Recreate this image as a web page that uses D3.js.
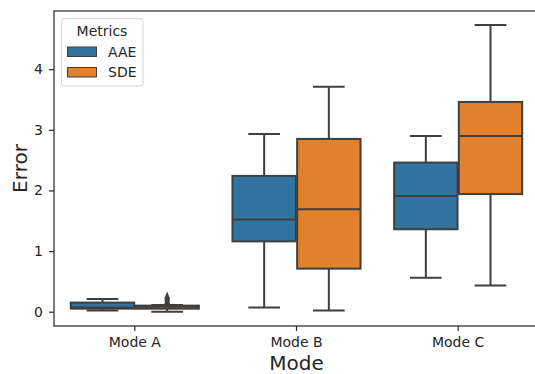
<!DOCTYPE html>
<html>
<head>
<meta charset="utf-8">
<script src="https://cdn.jsdelivr.net/npm/d3@7"></script>
<style>
  body { margin: 0; background: #fff; }
  text { font-family: "DejaVu Sans", sans-serif; fill: #262626; }
</style>
</head>
<body>
<div id="container"></div>
<script>
// categories
let modes = ["Mode A", "Mode B", "Mode C"];
let metrics = ["AAE", "SDE"];
let colors = ["#3274a1", "#e1812c"];
let yTicks = [0, 1, 2, 3, 4];

// box stats per mode: [whiskerLow, q1, median, q3, whiskerHigh]
let aaeStats = [
  [0.02, 0.05, 0.07, 0.15, 0.21],
  [0.07, 1.16, 1.52, 2.24, 2.93],
  [0.56, 1.36, 1.91, 2.46, 2.90]
];
let sdeStats = [
  [0.00, 0.05, 0.08, 0.10, 0.11],
  [0.02, 0.71, 1.69, 2.85, 3.71],
  [0.43, 1.94, 2.90, 3.46, 4.73]
];
// fliers per mode
let aaeOutliers = [[], [], []];
let sdeOutliers = [[0.14, 0.18, 0.22], [], []];

let w = 535;
let h = 374;
let padLeft = 54, padRight = 539, padTop = 11, padBottom = 326;
let lineColor = "#3f3f3f";

let viz = d3.select("#container")
  .append("svg")
    .attr("width", w)
    .attr("height", h)
;

let xScale = d3.scaleBand().domain(modes).range([padLeft, padRight]);
let bw = xScale.bandwidth();
let hueScale = d3.scaleBand().domain(metrics).range([-0.4 * bw, 0.4 * bw]);
let yScale = d3.scaleLinear().domain([-0.236, 4.96]).range([padBottom, padTop]);

// flatten into one list of boxes
let boxes = [];
modes.forEach(function(m, i){
  boxes.push({mode: m, metric: "AAE", s: aaeStats[i], out: aaeOutliers[i]});
  boxes.push({mode: m, metric: "SDE", s: sdeStats[i], out: sdeOutliers[i]});
});

let graphGroup = viz.append("g").attr("class", "graphGroup");

function cx(d){ return xScale(d.mode) + bw / 2 + hueScale(d.metric) + hueScale.bandwidth() / 2; }
let boxW = hueScale.bandwidth() * 0.98;

let g = graphGroup.selectAll(".box").data(boxes).enter()
  .append("g").attr("class", "box");

// fliers (diamonds), drawn under the box
g.each(function(d){
  d3.select(this).selectAll(".flier").data(d.out).enter()
    .append("path")
    .attr("class", "flier")
    .attr("d", d3.symbol().type(d3.symbolDiamond).size(40))
    .attr("transform", v => "translate(" + cx(d) + "," + yScale(v) + ") scale(0.8,1.15)")
    .attr("fill", lineColor);
});

// whiskers
g.append("line")
  .attr("x1", cx).attr("x2", cx)
  .attr("y1", d => yScale(d.s[0])).attr("y2", d => yScale(d.s[1]))
  .attr("stroke", lineColor).attr("stroke-width", 2);
g.append("line")
  .attr("x1", cx).attr("x2", cx)
  .attr("y1", d => yScale(d.s[3])).attr("y2", d => yScale(d.s[4]))
  .attr("stroke", lineColor).attr("stroke-width", 2);
// caps
[0, 4].forEach(function(k){
  g.append("line")
    .attr("x1", d => cx(d) - boxW / 4).attr("x2", d => cx(d) + boxW / 4)
    .attr("y1", d => yScale(d.s[k])).attr("y2", d => yScale(d.s[k]))
    .attr("stroke", lineColor).attr("stroke-width", 2);
});
// box
g.append("rect")
  .attr("x", d => cx(d) - boxW / 2)
  .attr("width", boxW)
  .attr("y", d => yScale(d.s[3]))
  .attr("height", d => yScale(d.s[1]) - yScale(d.s[3]))
  .attr("fill", d => colors[metrics.indexOf(d.metric)])
  .attr("stroke", lineColor).attr("stroke-width", 2);
// median
g.append("line")
  .attr("x1", d => cx(d) - boxW / 2).attr("x2", d => cx(d) + boxW / 2)
  .attr("y1", d => yScale(d.s[2])).attr("y2", d => yScale(d.s[2]))
  .attr("stroke", lineColor).attr("stroke-width", 2);

// axes
let xAxis = d3.axisBottom(xScale).tickSize(5).tickPadding(6);
let xAxisGroup = viz.append("g")
  .attr("class", "xaxisgroup")
  .attr("transform", "translate(0," + padBottom + ")");
xAxisGroup.call(xAxis);

let yAxis = d3.axisLeft(yScale).tickValues(yTicks).tickFormat(d3.format("d")).tickSize(5).tickPadding(6);
let yAxisGroup = viz.append("g")
  .attr("class", "yaxisgroup")
  .attr("transform", "translate(" + padLeft + ",0)");
yAxisGroup.call(yAxis);

viz.selectAll(".xaxisgroup .domain, .yaxisgroup .domain").remove();
viz.selectAll(".tick line").attr("stroke", "#262626").attr("stroke-width", 1.2);
viz.selectAll(".tick text").style("font-size", "14px").style("font-family", "DejaVu Sans").attr("fill", "#262626");

// frame
viz.append("rect")
  .attr("x", padLeft).attr("y", padTop)
  .attr("width", padRight - padLeft).attr("height", padBottom - padTop)
  .attr("fill", "none").attr("stroke", "#262626").attr("stroke-width", 1.2);

// axis labels
viz.append("text")
  .attr("x", (padLeft + padRight) / 2).attr("y", 369.5)
  .attr("text-anchor", "middle")
  .style("font-size", "20px")
  .text("Mode");
viz.append("text")
  .attr("transform", "translate(27," + ((padTop + padBottom) / 2) + ") rotate(-90)")
  .attr("text-anchor", "middle")
  .style("font-size", "20px")
  .text("Error");

// legend
let legend = viz.append("g").attr("class", "legend");
legend.append("rect")
  .attr("x", 61.5).attr("y", 18.5).attr("width", 81.5).attr("height", 67.5)
  .attr("rx", 3)
  .attr("fill", "#fff").attr("fill-opacity", 0.8)
  .attr("stroke", "#d6d6d6");
legend.append("text")
  .attr("x", 102).attr("y", 36)
  .attr("text-anchor", "middle")
  .style("font-size", "14px")
  .text("Metrics");
legend.selectAll(".item").data(metrics).enter()
  .append("rect")
  .attr("x", 67.5).attr("y", (d, i) => 47 + i * 20.5)
  .attr("width", 29).attr("height", 9.5)
  .attr("fill", (d, i) => colors[i])
  .attr("stroke", lineColor).attr("stroke-width", 1);
legend.selectAll(".label").data(metrics).enter()
  .append("text")
  .attr("x", 108).attr("y", (d, i) => 56.5 + i * 20.5)
  .style("font-size", "14px")
  .text(d => d);
</script>
</body>
</html>
